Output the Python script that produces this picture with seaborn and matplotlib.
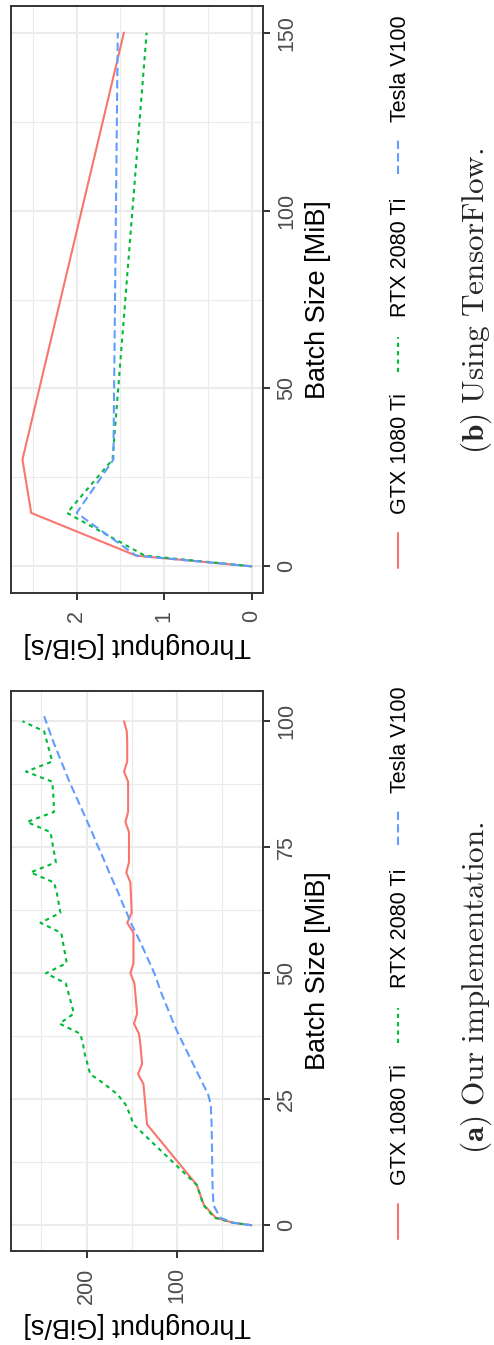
import numpy as np
import pandas as pd
import matplotlib
matplotlib.use('Agg')
import matplotlib.pyplot as plt
import seaborn as sns
from matplotlib.lines import Line2D

sns.set_style("white")
plt.rcParams['font.family'] = ['Liberation Sans', 'DejaVu Sans']
plt.rcParams['mathtext.fontset'] = 'cm'

# ---- data -------------------------------------------------------------
gpus = ['GTX 1080 Ti', 'RTX 2080 Ti', 'Tesla V100']
colors = ['#F8766D', '#00BA38', '#619CFF']
dash_styles = ['', (2, 2), (4, 2)]

# (a) our implementation: batch size [MiB] -> throughput [GiB/s]
batch_a = [0, 0.5, 1.5, 4, 8,
           20, 22, 24, 26, 28, 30, 32, 34, 36, 38, 40, 42, 44, 46, 48, 50,
           52, 54, 56, 58, 60, 62, 64, 66, 68, 70, 72, 74, 76, 78, 80,
           82, 84, 86, 88, 90, 92, 94, 96, 98, 100]
batch_a_v100 = [0, 0.5, 1.5, 4, 8,
                20, 22, 24, 26, 28, 30, 32, 34, 36, 38, 40, 42, 44, 46, 48, 50,
                52, 54, 56, 58, 60, 62, 64, 66, 68, 70, 72, 74, 76, 78, 80,
                82, 84, 86, 88, 90, 92, 94, 96, 98, 101]
gtx_a = [17.3, 38, 57, 70, 78,
         133, 134, 135, 136, 137, 143, 138.5, 139.5, 140.5, 142, 147.5,
         144, 145, 146, 147, 151.5, 148, 148, 148, 148, 155, 150, 150.5,
         151, 151.5, 156, 153, 153, 153, 153, 157, 154, 154, 154, 154,
         158.5, 155, 155, 155, 155.5, 158.5]
rtx_a = [17.3, 38, 58.5, 70.5, 78,
         148, 152, 157, 166, 180, 196, 199, 202, 204, 207, 230, 214, 217,
         220, 223, 245, 222, 224, 226, 228, 251, 229, 231, 233, 236, 262,
         234, 236, 238, 240, 266, 236, 236.5, 237, 238, 267, 238, 241,
         244, 247, 271]
v100_a = [17.3, 38, 52, 59.5, 60.5,
          61.5, 62, 62.5, 65.5, 71, 76.5, 82, 87.5, 93, 98.5, 103.5, 108,
          112.5, 117, 121, 125, 130, 135, 140, 145.5, 151, 155.5, 160.5,
          165, 170, 175, 179.5, 184.5, 189.5, 194, 199, 204, 209, 214,
          219, 223.5, 228, 232.5, 237, 241, 247]

# (b) TensorFlow
batch_b = [0, 3, 15, 30, 150]
gtx_b = [0, 1.32, 2.52, 2.62, 1.46]
rtx_b = [0, 1.22, 2.11, 1.59, 1.20]
v100_b = [0, 1.32, 2.00, 1.58, 1.53]


def long_df(xs, ys):
    parts = []
    for g, x, y in zip(gpus, xs, ys):
        parts.append(pd.DataFrame({'batch': x, 'throughput': y, 'gpu': g}))
    return pd.concat(parts, ignore_index=True)


df_a = long_df([batch_a, batch_a, batch_a_v100], [gtx_a, rtx_a, v100_a])
df_b = long_df([batch_b, batch_b, batch_b], [gtx_b, rtx_b, v100_b])

# ---- figure (the whole figure is turned 90 degrees) ---------------------
W, H = 494, 1345
fig = plt.figure(figsize=(W / 100, H / 100), dpi=100)


def fx(x):
    return x / W


def fy(y):
    return 1 - y / H


LW = 1.5
DARK = '#333333'
GRID = '#EBEBEB'


def draw_panel(df, top, bottom, tmaj, tmin, bmaj, bmin, title_off,
               caption, cap_y):
    ax = fig.add_axes([fx(11), fy(bottom), fx(263) - fx(11), (bottom - top) / H])
    sns.lineplot(data=df, x='throughput', y='batch', hue='gpu', style='gpu',
                 hue_order=gpus, style_order=gpus,
                 palette=dict(zip(gpus, colors)),
                 dashes=dict(zip(gpus, dash_styles)),
                 orient='y', estimator=None, linewidth=LW, legend=False, ax=ax)
    # ggplot-like 5% expansion
    t0, t1 = df['throughput'].min(), df['throughput'].max()
    b0, b1 = df['batch'].min(), df['batch'].max()
    ax.set_xlim(t1 + 0.05 * (t1 - t0), t0 - 0.05 * (t1 - t0))
    ax.set_ylim(b0 - 0.05 * (b1 - b0), b1 + 0.05 * (b1 - b0))
    ax.set_xticks(tmaj)
    ax.set_xticks(tmin, minor=True)
    ax.set_yticks(bmaj)
    ax.set_yticks(bmin, minor=True)
    ax.set_xticklabels([str(v) for v in tmaj])
    ax.set_yticklabels([str(v) for v in bmaj])
    ax.set_xlabel('')
    ax.set_ylabel('')
    ax.set_axisbelow(True)
    ax.grid(which='major', color=GRID, linewidth=1.5)
    ax.grid(which='minor', color=GRID, linewidth=0.8)
    for s in ax.spines.values():
        s.set_color(DARK)
        s.set_linewidth(1.4)
        s.set_visible(True)
    ax.yaxis.tick_right()
    ax.tick_params(which='minor', length=0)
    ax.tick_params(axis='y', which='major', right=True, left=False, length=5,
                   width=1.4, color=DARK, labelcolor='#4D4D4D', labelsize=15.5,
                   labelrotation=90, pad=4.5)
    ax.tick_params(axis='x', which='major', bottom=True, length=5, width=1.4,
                   color=DARK, labelcolor='#4D4D4D', labelsize=15.5,
                   labelrotation=90, pad=7)
    for lab in ax.get_yticklabels():
        lab.set_va('center')
        lab.set_ha('left')
    for lab in ax.get_xticklabels():
        lab.set_ha('center')
        lab.set_va('top')

    mid = (top + bottom) / 2
    # axis titles
    fig.text(fx(318), fy(mid), 'Batch Size [MiB]', rotation=90, ha='center',
             va='center', fontsize=19.5, color='black')
    fig.text(fx(137), fy(bottom + title_off), 'Throughput [GiB/s]', rotation=180,
             ha='center', va='center', fontsize=19.5, color='black')

    # legend (keys and labels), drawn rotated like the rest
    key_x = 398
    keys = [(233.3, 268.3, 214.3), (37.3, 72.3, 17.3), (-160.7, -125.7, -177.7)]
    for g, c, d, (k0, k1, t) in zip(gpus, colors, dash_styles, keys):
        ln = Line2D([fx(key_x), fx(key_x)], [fy(mid + k1), fy(mid + k0)],
                    transform=fig.transFigure, color=c, linewidth=LW)
        if d:
            ln.set_dashes(d)
        fig.add_artist(ln)
        fig.text(fx(key_x + 2), fy(mid + t), g, rotation=90, ha='center',
                 va='bottom', fontsize=15.5, color='black')

    fig.text(fx(476), fy(cap_y), caption, rotation=90, ha='center',
             va='center', fontsize=22.5)
    return ax


draw_panel(df_b, 6, 593, [0, 1, 2], [0.5, 1.5, 2.5], [0, 50, 100, 150],
           [25, 75, 125], 52.5,
           r'$\mathbf{(b)}\ \mathrm{Using\ TensorFlow.}$', 301)
draw_panel(df_a, 690.7, 1250.7, [100, 200], [50, 150, 250],
           [0, 25, 50, 75, 100], [12.5, 37.5, 62.5, 87.5], 74.3,
           r'$\mathbf{(a)}\ \mathrm{Our\ implementation.}$', 987.5)

fig.savefig('out.png', dpi=100, facecolor='white')
